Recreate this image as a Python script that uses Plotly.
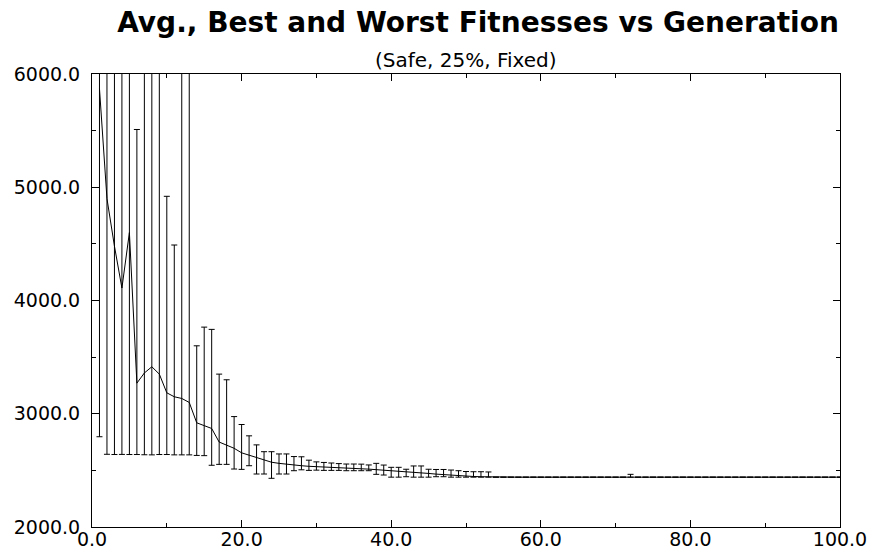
import plotly.graph_objects as go

generation = list(range(1, 101))

avg_fitness = [
    5870, 4900, 4480, 4110, 4600, 3270, 3360, 3415, 3350, 3185,
    3150, 3135, 3100, 2920, 2895, 2870, 2750, 2725, 2695, 2655,
    2635, 2615, 2592, 2572, 2562, 2553, 2547, 2541, 2536, 2532,
    2530, 2528, 2524, 2520, 2517, 2514, 2511, 2507, 2502, 2496,
    2490, 2486, 2482, 2478, 2473, 2467, 2462, 2457, 2453, 2449,
    2446, 2444, 2442, 2440, 2440, 2440, 2440, 2440, 2440, 2440,
    2440, 2440, 2440, 2440, 2440, 2440, 2440, 2440, 2440, 2440,
    2440, 2440, 2440, 2440, 2440, 2440, 2440, 2440, 2440, 2440,
    2440, 2440, 2440, 2440, 2440, 2440, 2440, 2440, 2440, 2440,
    2440, 2440, 2440, 2440, 2440, 2440, 2440, 2440, 2440, 2440,
]

worst_fitness = [
    9800, 8900, 8400, 7900, 7600, 5510, 7300, 6900, 7100, 4920,
    4490, 6800, 6500, 3600, 3765, 3745, 3350, 3300, 2975, 2905,
    2805, 2725, 2665, 2665, 2645, 2645, 2622, 2620, 2590, 2575,
    2570, 2565, 2560, 2556, 2556, 2555, 2548, 2562, 2547, 2527,
    2527, 2510, 2539, 2539, 2510, 2508, 2508, 2503, 2497, 2490,
    2488, 2488, 2486, 2440, 2440, 2440, 2440, 2440, 2440, 2440,
    2440, 2440, 2440, 2440, 2440, 2440, 2440, 2440, 2440, 2440,
    2440, 2465, 2440, 2440, 2440, 2440, 2440, 2440, 2440, 2440,
    2440, 2440, 2440, 2440, 2440, 2440, 2440, 2440, 2440, 2440,
    2440, 2440, 2440, 2440, 2440, 2440, 2440, 2440, 2440, 2440,
]

best_fitness = [
    2797, 2642, 2640, 2641, 2640, 2640, 2638, 2637, 2640, 2640,
    2637, 2637, 2637, 2632, 2630, 2545, 2553, 2553, 2512, 2509,
    2541, 2468, 2468, 2430, 2468, 2468, 2497, 2505, 2500, 2502,
    2500, 2500, 2500, 2497, 2497, 2497, 2497, 2465, 2459, 2440,
    2440, 2444, 2440, 2440, 2440, 2444, 2444, 2440, 2440, 2440,
    2440, 2440, 2440, 2440, 2440, 2440, 2440, 2440, 2440, 2440,
    2440, 2440, 2440, 2440, 2440, 2440, 2440, 2440, 2440, 2440,
    2440, 2440, 2440, 2440, 2440, 2440, 2440, 2440, 2440, 2440,
    2440, 2440, 2440, 2440, 2440, 2440, 2440, 2440, 2440, 2440,
    2440, 2440, 2440, 2440, 2440, 2440, 2440, 2440, 2440, 2440,
]

title_text = "Avg., Best and Worst Fitnesses vs Generation"
subtitle_text = "(Safe, 25%, Fixed)"

err_plus = [w - a for w, a in zip(worst_fitness, avg_fitness)]
err_minus = [a - b for a, b in zip(avg_fitness, best_fitness)]

FONT = "DejaVu Sans, Liberation Sans, Arial, sans-serif"

W, H = 869, 552

fig = go.Figure()
fig.add_trace(go.Scatter(
    x=generation, y=avg_fitness, mode="lines",
    line=dict(color="black", width=1),
    error_y=dict(type="data", symmetric=False, array=err_plus, arrayminus=err_minus,
                 color="black", thickness=1, width=3),
    showlegend=False,
))

axis_common = dict(
    showgrid=False, zeroline=False, showline=True, linecolor="black", linewidth=1,
    mirror="ticks", ticks="inside", tickcolor="black", tickwidth=1, ticklen=7,
    automargin=False,
    tickfont=dict(family=FONT, size=19, color="black"),
)

fig.update_xaxes(range=[0, 100], tick0=0, dtick=20, tickformat=".1f",
                 minor=dict(dtick=10, ticks="inside", ticklen=4, tickcolor="black"),
                 ticklabelstandoff=-5, **axis_common)
fig.update_yaxes(range=[2000, 6000], tick0=2000, dtick=1000, tickformat=".1f",
                 minor=dict(dtick=500, ticks="inside", ticklen=4, tickcolor="black"),
                 ticklabelstandoff=7, **axis_common)

fig.update_layout(
    width=W, height=H,
    margin=dict(l=92, r=29, t=74, b=25),
    paper_bgcolor="white", plot_bgcolor="white",
    title=dict(text="<b>" + title_text + "</b>", x=478 / W, xanchor="center",
               y=1 - 22 / H, yanchor="middle",
               font=dict(family=FONT, size=28, color="black")),
    annotations=[dict(text=subtitle_text, xref="paper", yref="paper",
                      x=0.5, y=(527 - 60) / 453, xanchor="center", yanchor="middle",
                      showarrow=False, font=dict(family=FONT, size=20, color="black"))],
)

fig.write_html("out.html", config={"displayModeBar": False},
               post_script="document.body.style.margin='0px';")
